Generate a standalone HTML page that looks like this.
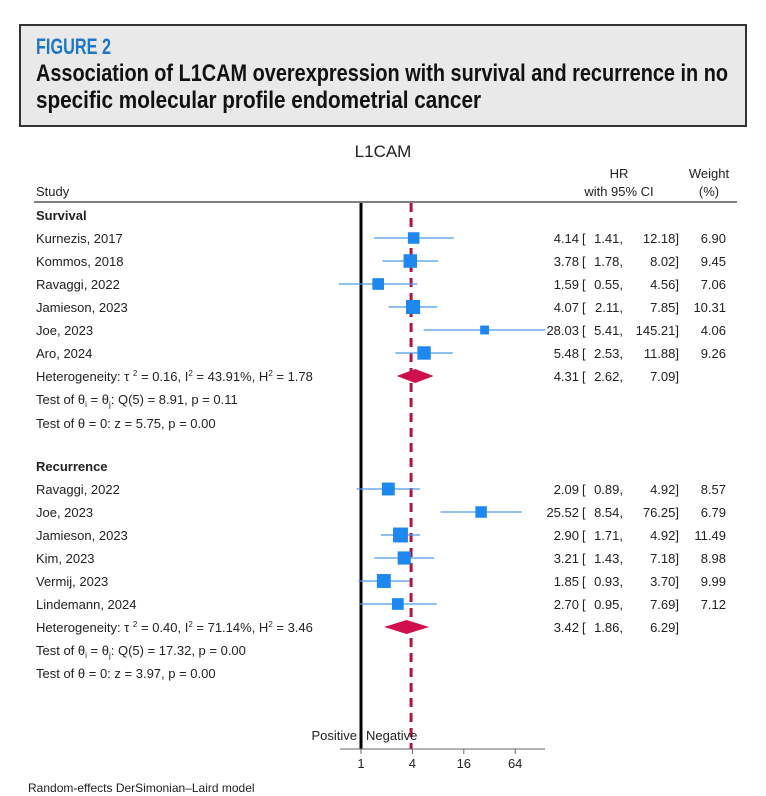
<!DOCTYPE html>
<html><head><meta charset="utf-8">
<style>
body{margin:0;background:#fff;}
svg{display:block;font-family:"Liberation Sans",Arial,sans-serif;}
</style></head>
<body>
<svg id="chart" width="766" height="796" viewBox="0 0 766 796">
  <rect x="20" y="25" width="726" height="101" fill="#e9e9e9" stroke="#333" stroke-width="2"/>
  <text x="36" y="54" font-size="22" font-weight="bold" fill="#1f77c4" textLength="75" lengthAdjust="spacingAndGlyphs">FIGURE 2</text>
  <text x="36" y="81" font-size="24" font-weight="bold" fill="#111" textLength="692" lengthAdjust="spacingAndGlyphs">Association of L1CAM overexpression with survival and recurrence in no</text>
  <text x="36" y="108" font-size="24" font-weight="bold" fill="#111" textLength="445" lengthAdjust="spacingAndGlyphs">specific molecular profile endometrial cancer</text>
  <text x="383" y="157" font-size="17" text-anchor="middle" fill="#222">L1CAM</text>
  <text x="36" y="196" font-size="13" fill="#222">Study</text>
  <text x="619" y="178" font-size="13" text-anchor="middle" fill="#222">HR</text>
  <text x="619" y="196" font-size="13" text-anchor="middle" fill="#222">with 95% CI</text>
  <text x="709" y="178" font-size="13" text-anchor="middle" fill="#222">Weight</text>
  <text x="709" y="196" font-size="13" text-anchor="middle" fill="#222">(%)</text>
  <line x1="34" y1="202" x2="737" y2="202" stroke="#333" stroke-width="1.2"/>
  <g id="marks"></g>
  <text x="28" y="792" font-size="12" fill="#222">Random-effects DerSimonian–Laird model</text>
</svg>
<script>
const survStudies = ["Kurnezis, 2017","Kommos, 2018","Ravaggi, 2022","Jamieson, 2023","Joe, 2023","Aro, 2024"];
const survHR = [4.14,3.78,1.59,4.07,28.03,5.48];
const survLo = [1.41,1.78,0.55,2.11,5.41,2.53];
const survHi = [12.18,8.02,4.56,7.85,145.21,11.88];
const survW = [6.90,9.45,7.06,10.31,4.06,9.26];
const survPooled = [4.31,2.62,7.09];
const recStudies = ["Ravaggi, 2022","Joe, 2023","Jamieson, 2023","Kim, 2023","Vermij, 2023","Lindemann, 2024"];
const recHR = [2.09,25.52,2.90,3.21,1.85,2.70];
const recLo = [0.89,8.54,1.71,1.43,0.93,0.95];
const recHi = [4.92,76.25,4.92,7.18,3.70,7.69];
const recW = [8.57,6.79,11.49,8.98,9.99,7.12];
const recPooled = [3.42,1.86,6.29];
const overallHR = 3.86;
const ticks = [1,4,16,64];

const NS="http://www.w3.org/2000/svg";
const g=document.getElementById('marks');
const X=v=>361+25.7*Math.log2(v);
function el(tag,attrs,text){const e=document.createElementNS(NS,tag);for(const k in attrs)e.setAttribute(k,attrs[k]);if(text!==undefined)e.textContent=text;g.appendChild(e);return e;}
function txt(x,y,s,anchor,weight){return el('text',{x:x,y:y,'font-size':13,fill:'#222','text-anchor':anchor||'start','font-weight':weight||'normal'},s);}
function rich(x,y,parts){
  const t=el('text',{x:x,y:y,'font-size':13,fill:'#222'});
  let pending=0;
  parts.forEach(p=>{
    const ts=document.createElementNS(NS,'tspan');
    if(typeof p==='string'){
      ts.textContent=p;
      if(pending){ts.setAttribute('dy',pending);pending=0;}
    } else {
      ts.textContent=p[0];
      ts.setAttribute('font-size','8');
      ts.setAttribute('dy',p[1]+pending);
      pending=-p[1];
    }
    t.appendChild(ts);
  });
  return t;
}

let l=el('line',{x1:361,y1:203,x2:361,y2:749,stroke:'#000','stroke-width':3});


l=el('line',{x1:X(overallHR),y1:203,x2:X(overallHR),y2:749,stroke:'#b0143f','stroke-width':3,'stroke-dasharray':'9,6'});



function fmt(v){return v.toFixed(2);}
function section(title,y0,studies,hr,lo,hi,w,pooled,hetParts,qParts){
  let t=txt(36,y0+5,title,'start','bold');
  
  
  studies.forEach((s,i)=>{
    const y=y0+23*(i+1);
    let a=txt(36,y+5,s);
    
    
    let ci=el('line',{x1:X(lo[i]),y1:y,x2:X(hi[i]),y2:y,stroke:'#4a9be8','stroke-width':1.2});
    
    
    const sz=4.4*Math.sqrt(w[i]);
    let b=el('rect',{x:X(hr[i])-sz/2,y:y-sz/2,width:sz,height:sz,fill:'#1e88f0'});
    
    
    let e=txt(579,y+5,fmt(hr[i]),'end');
    
    
    let c1=txt(582,y+5,'[');
    
    
    let c2=txt(623,y+5,fmt(lo[i])+',','end');
    
    
    let c3=txt(679,y+5,fmt(hi[i])+']','end');
    
    
    let wt=txt(726,y+5,fmt(w[i]),'end');
    
    
  });
  const yh=y0+23*(studies.length+1);
  let h=rich(36,yh+5,hetParts);
  
  
  let d=el('polygon',{points:`${X(pooled[1])},${yh} ${X(pooled[0])},${yh-7} ${X(pooled[2])},${yh} ${X(pooled[0])},${yh+7}`,fill:'#d0104c'});
  
  
  let p1=txt(579,yh+5,fmt(pooled[0]),'end');
  
  
  let p2=txt(582,yh+5,'[');
  
  
  let p3=txt(623,yh+5,fmt(pooled[1])+',','end');
  
  
  let p4=txt(679,yh+5,fmt(pooled[2])+']','end');
  
  
  let q1=rich(36,yh+28,qParts);
  
  
  return yh;
}
section('Survival',215,survStudies,survHR,survLo,survHi,survW,survPooled,
  ['Heterogeneity: τ ',['2',-5],' = 0.16, I',['2',-5],' = 43.91%, H',['2',-5],' = 1.78'],
  ['Test of θ',['i',3],' = θ',['j',3],': Q(5) = 8.91, p = 0.11']);
let t0=txt(36,428,'Test of θ = 0: z = 5.75, p = 0.00');


section('Recurrence',466,recStudies,recHR,recLo,recHi,recW,recPooled,
  ['Heterogeneity: τ ',['2',-5],' = 0.40, I',['2',-5],' = 71.14%, H',['2',-5],' = 3.46'],
  ['Test of θ',['i',3],' = θ',['j',3],': Q(5) = 17.32, p = 0.00']);
t0=txt(36,678,'Test of θ = 0: z = 3.97, p = 0.00');



let ax=el('line',{x1:340,y1:749,x2:545,y2:749,stroke:'#666','stroke-width':1});


ticks.forEach(v=>{
  let tk=el('line',{x1:X(v),y1:749,x2:X(v),y2:754,stroke:'#666','stroke-width':1});
  
  
  let tl=txt(X(v),768,String(v),'middle');
  
  
});
let pos=txt(357,740,'Positive','end');


let neg=txt(366,740,'Negative','start');


</script>
</body></html>
